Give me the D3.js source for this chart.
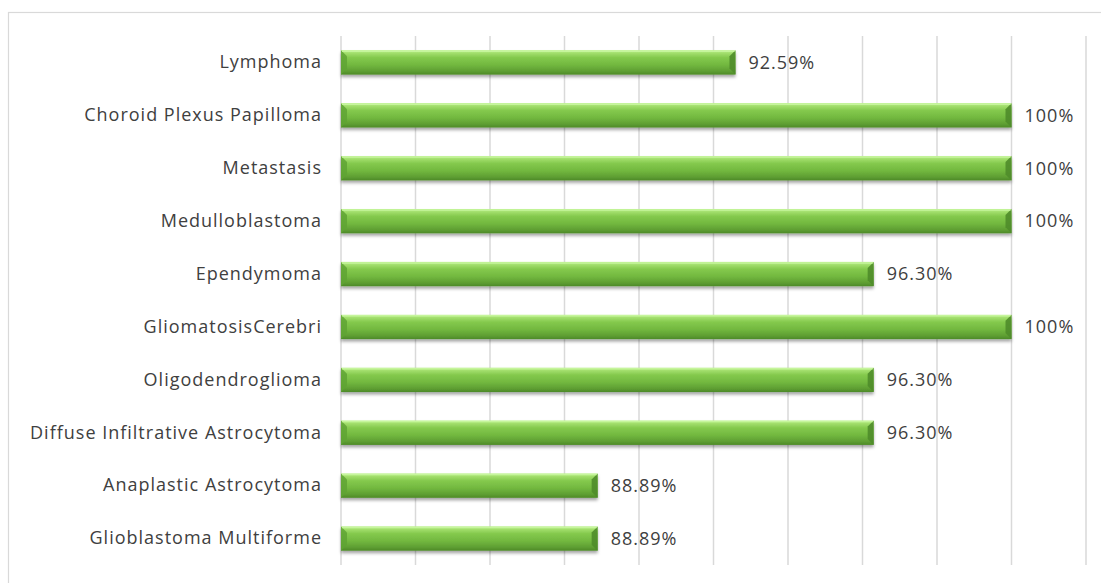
<!DOCTYPE html>
<html>
<head>
<meta charset="utf-8">
<script src="https://cdn.jsdelivr.net/npm/d3@7"></script>
<style>
  html, body { margin: 0; padding: 0; background: #ffffff; }
  svg { display: block; }
  .cat { font-family: "Open Sans", sans-serif; font-size: 18px; letter-spacing: 1px; fill: #404040; }
  .val { font-family: "Open Sans", sans-serif; font-size: 18px; letter-spacing: 1px; fill: #404040; }
</style>
</head>
<body>
<svg id="chart" width="1101" height="583"></svg>
<script>
// Tumour types, listed top to bottom
const categories = [
  "Lymphoma",
  "Choroid Plexus Papilloma",
  "Metastasis",
  "Medulloblastoma",
  "Ependymoma",
  "GliomatosisCerebri ",
  "Oligodendroglioma",
  "Diffuse Infiltrative Astrocytoma",
  "Anaplastic Astrocytoma",
  "Glioblastoma Multiforme"
];
// Percentage for each tumour type
const values = [92.59, 100, 100, 100, 96.30, 100, 96.30, 96.30, 88.89, 88.89];
const valueLabels = ["92.59%", "100%", "100%", "100%", "96.30%", "100%", "96.30%", "96.30%", "88.89%", "88.89%"];
// Gridline positions along the value axis
const gridTicks = [82, 84, 86, 88, 90, 92, 94, 96, 98, 100, 102];

const svg = d3.select("#chart");
const W = 1101, H = 583;
const plot = { left: 341, right: 1086, top: 36, bottom: 565 };

// Outer chart frame
svg.append("rect")
  .attr("x", 8.5).attr("y", 12.5)
  .attr("width", W + 20).attr("height", H + 20)
  .attr("fill", "none").attr("stroke", "#d9d9d9").attr("stroke-width", 1.2);

const x = d3.scaleLinear().domain([82, 102]).range([plot.left, plot.right]);
const y = d3.scaleBand().domain(categories).range([plot.top, plot.bottom]).paddingInner(0.54).paddingOuter(0.27);

const defs = svg.append("defs");
const grad = defs.append("linearGradient").attr("id", "barGrad")
  .attr("x1", 0).attr("y1", 0).attr("x2", 0).attr("y2", 1);
[[0, "#b9f08a"], [0.12, "#a2de6c"], [0.3, "#84c94d"], [0.6, "#72b83f"], [0.85, "#5f9f33"], [1, "#4d8a28"]]
  .forEach(([o, c]) => grad.append("stop").attr("offset", o).attr("stop-color", c));

const shadow = defs.append("filter").attr("id", "barShadow")
  .attr("x", "-5%").attr("y", "-30%").attr("width", "110%").attr("height", "180%");
shadow.append("feDropShadow").attr("dx", 0).attr("dy", 2.5).attr("stdDeviation", 1.6)
  .attr("flood-color", "#000").attr("flood-opacity", 0.35);

// Vertical gridlines
svg.append("g")
  .selectAll("line")
  .data(gridTicks)
  .join("line")
  .attr("x1", d => x(d)).attr("x2", d => x(d))
  .attr("y1", plot.top).attr("y2", plot.bottom)
  .attr("stroke", "#d9d9d9").attr("stroke-width", 1.5);

// Category axis
const yAxis = d3.axisLeft(y).tickSize(0).tickPadding(19);
const ga = svg.append("g").attr("transform", `translate(${plot.left},0)`).call(yAxis);
ga.select(".domain").remove();
ga.selectAll("text").attr("class", "cat").attr("font-family", null).attr("font-size", null);

// Bars with bevelled ends
const bars = svg.append("g").selectAll("g.bar")
  .data(categories.map((c, i) => ({ c, v: values[i], label: valueLabels[i] })))
  .join("g").attr("class", "bar");

bars.append("rect")
  .attr("x", x(82)).attr("y", d => y(d.c))
  .attr("width", d => x(d.v) - x(82)).attr("height", y.bandwidth())
  .attr("fill", "url(#barGrad)")
  .attr("filter", "url(#barShadow)");

const bev = 6;
// left bevel
bars.append("path")
  .attr("d", d => {
    const x0 = x(82), y0 = y(d.c), h = y.bandwidth();
    return `M${x0},${y0} L${x0 + bev},${y0 + bev} L${x0 + bev},${y0 + h - bev} L${x0},${y0 + h} Z`;
  })
  .attr("fill", "#5fa334").attr("opacity", 0.85);
// right bevel
bars.append("path")
  .attr("d", d => {
    const x1 = x(d.v), y0 = y(d.c), h = y.bandwidth();
    return `M${x1},${y0} L${x1 - bev},${y0 + bev} L${x1 - bev},${y0 + h - bev} L${x1},${y0 + h} Z`;
  })
  .attr("fill", "#4f8c2a").attr("opacity", 0.9);
// top highlight line
bars.append("line")
  .attr("x1", x(82) + 1).attr("x2", d => x(d.v) - 1)
  .attr("y1", d => y(d.c) + 1).attr("y2", d => y(d.c) + 1)
  .attr("stroke", "#c6f59c").attr("stroke-width", 1.5);

// Value labels
bars.append("text")
  .attr("class", "val")
  .attr("x", d => x(d.v) + 13)
  .attr("y", d => y(d.c) + y.bandwidth() / 2)
  .attr("dy", "0.35em")
  .text(d => d.label);
</script>
</body>
</html>
